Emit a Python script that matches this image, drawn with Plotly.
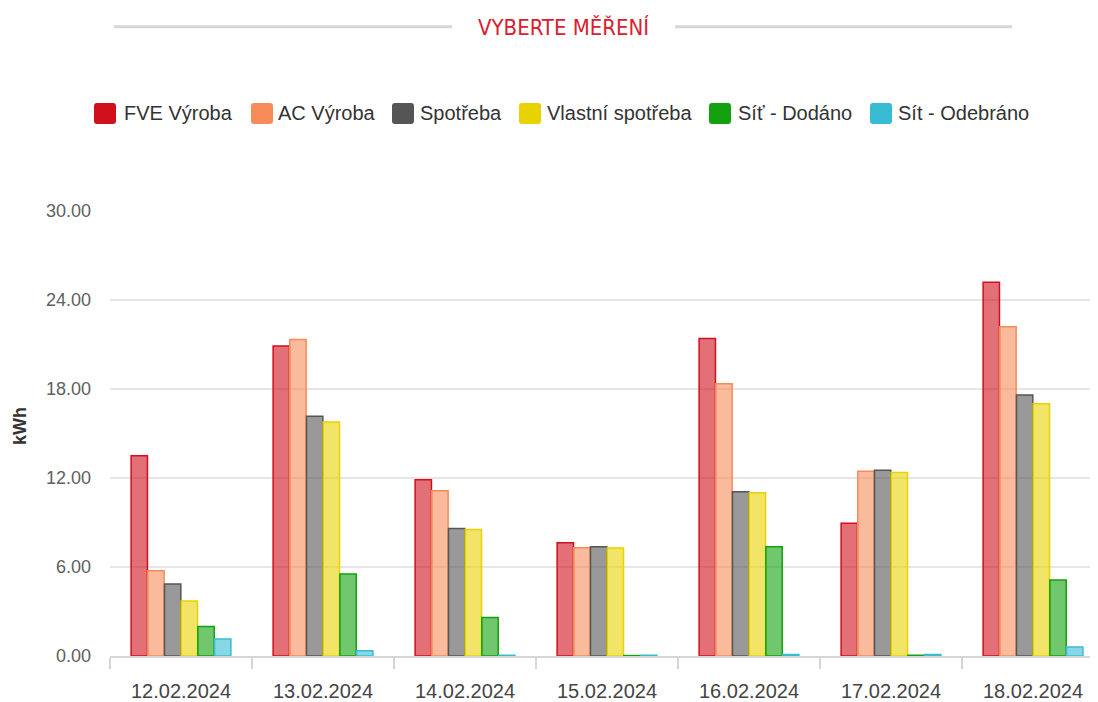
import plotly.graph_objects as go

# ---- data ----
categories = ["12.02.2024", "13.02.2024", "14.02.2024", "15.02.2024",
              "16.02.2024", "17.02.2024", "18.02.2024"]
series_names = ["FVE Výroba", "AC Výroba", "Spotřeba", "Vlastní spotřeba",
                "Síť - Dodáno", "Sít - Odebráno"]
fve_vyroba = [13.5, 20.9, 11.88, 7.63, 21.4, 8.95, 25.2]
ac_vyroba = [5.75, 21.34, 11.14, 7.3, 18.36, 12.46, 22.2]
spotreba = [4.85, 16.17, 8.59, 7.37, 11.07, 12.53, 17.6]
vlastni_spotreba = [3.71, 15.77, 8.52, 7.28, 11.0, 12.37, 17.0]
sit_dodano = [1.99, 5.53, 2.6, 0.03, 7.37, 0.05, 5.12]
sit_odebrano = [1.14, 0.36, 0.05, 0.05, 0.1, 0.1, 0.6]
series_values = [fve_vyroba, ac_vyroba, spotreba, vlastni_spotreba, sit_dodano, sit_odebrano]
y_ticks = [0, 6, 12, 18, 24, 30]

# ---- style ----
colors = [(208, 16, 27), (247, 140, 90), (85, 85, 85), (232, 210, 0), (19, 161, 14), (56, 188, 212)]
OFF = 8  # page body margin
# plot area in screen pixels: x 110..1104, y 211..658
W, H = 1104 - OFF, 702 - OFF
L, R, T = 110 - OFF, 0, 211 - OFF
B = 702 - 658
PW, PH = W - L - R, H - T - B


def px_x(x):
    # screen x -> paper
    return (x - OFF - L) / PW


def px_y(y):
    # screen y -> paper
    return (H - B - (y - OFF)) / PH


fig = go.Figure()
for name, vals, c in zip(series_names, series_values, colors):
    fig.add_trace(go.Bar(
        x=categories, y=vals, name=name, showlegend=False,
        marker=dict(color="rgba(%d,%d,%d,0.6)" % c,
                    line=dict(color="rgb(%d,%d,%d)" % c, width=1.5)),
    ))

shapes = []
annotations = []

# title with side lines
font_body = "Liberation Sans, Arial, sans-serif"
annotations.append(dict(text="VYBERTE MĚŘENÍ", xref="paper", yref="paper",
                        x=px_x(563), y=px_y(27), xanchor="center", yanchor="middle",
                        showarrow=False,
                        font=dict(family="Liberation Sans Narrow, Arial Narrow, DejaVu Sans Condensed, sans-serif",
                                  size=22, color="#d9202f")))
for x0, x1 in [(114, 452), (675, 1012)]:
    shapes.append(dict(type="line", xref="paper", yref="paper",
                       x0=px_x(x0), x1=px_x(x1), y0=px_y(26), y1=px_y(26),
                       line=dict(color="#d6d6d6", width=3)))

# custom legend (rounded squares + labels)
sq_left = [94, 251, 392, 519, 709, 870]
txt_left = [122, 276, 418, 545, 736, 896]
sq_w, sq_h, rad, cy = 22, 21, 3, 113
for name, c, sx, tx in zip(series_names, colors, sq_left, txt_left):
    x0, x1 = sx, sx + sq_w
    y0, y1 = cy - sq_h / 2, cy + sq_h / 2
    pts = [
        ("M", x0 + rad, y0), ("L", x1 - rad, y0), ("Q", x1, y0, x1, y0 + rad),
        ("L", x1, y1 - rad), ("Q", x1, y1, x1 - rad, y1), ("L", x0 + rad, y1),
        ("Q", x0, y1, x0, y1 - rad), ("L", x0, y0 + rad), ("Q", x0, y0, x0 + rad, y0),
    ]
    path = ""
    for p in pts:
        if p[0] == "Q":
            path += "Q%.5f,%.5f %.5f,%.5f " % (px_x(p[1]), px_y(p[2]), px_x(p[3]), px_y(p[4]))
        else:
            path += "%s%.5f,%.5f " % (p[0], px_x(p[1]), px_y(p[2]))
    path += "Z"
    shapes.append(dict(type="path", xref="paper", yref="paper", path=path,
                       fillcolor="rgb(%d,%d,%d)" % c, line=dict(width=0)))
    annotations.append(dict(text=name, xref="paper", yref="paper",
                            x=px_x(tx), y=px_y(cy), xanchor="left", yanchor="middle",
                            showarrow=False, font=dict(family=font_body, size=20, color="#333333")))

# y axis title
annotations.append(dict(text="<b>kWh</b>", xref="paper", yref="paper",
                        x=px_x(20), y=px_y(427), xanchor="center", yanchor="middle",
                        textangle=-90, showarrow=False,
                        font=dict(family=font_body, size=18, color="#333333")))

fig.update_layout(
    width=W, height=H,
    margin=dict(l=L, r=R, t=T, b=B, pad=0),
    paper_bgcolor="white", plot_bgcolor="white",
    barmode="group", bargap=0.295, bargroupgap=0.02,
    showlegend=False,
    shapes=shapes, annotations=annotations,
    xaxis=dict(type="category", tickson="boundaries", ticks="outside", ticklen=11,
               tickcolor="#d6d6d6", tickwidth=1.5, showline=True, linecolor="#d6d6d6",
               linewidth=2, showgrid=False, ticklabelstandoff=16,
               tickfont=dict(family=font_body, size=20, color="#444444")),
    yaxis=dict(range=[0, 30], tickvals=y_ticks, tickformat=".2f", showgrid=True,
               gridcolor="#e6e6e6", gridwidth=1.5, zeroline=False, showline=False,
               ticks="", ticklabelstandoff=18,
               tickfont=dict(family=font_body, size=18, color="#606060")),
)

fig.write_html("out.html")
